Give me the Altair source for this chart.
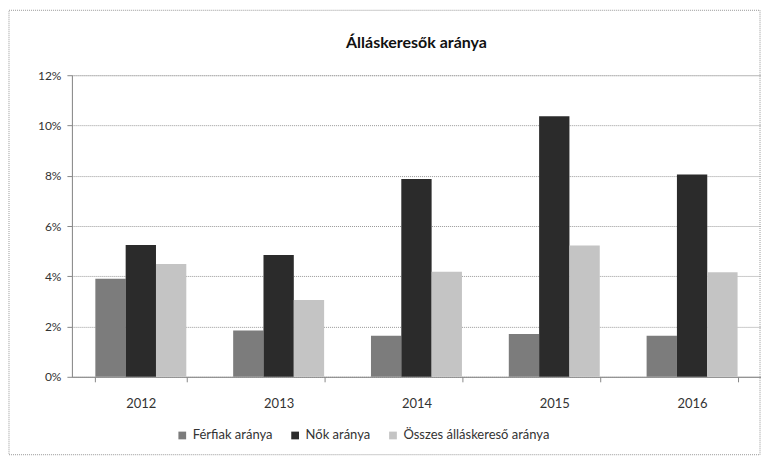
import altair as alt
import pandas as pd

years = ["2012", "2013", "2014", "2015", "2016"]
series = ["Férfiak aránya", "Nők aránya", "Összes álláskereső aránya"]
ferfiak = [0.039, 0.0184, 0.0163, 0.017, 0.0163]
nok = [0.0524, 0.0485, 0.0787, 0.1037, 0.0805]
osszes = [0.0449, 0.0306, 0.0418, 0.0522, 0.0416]
colors = ["#7c7c7c", "#2b2b2b", "#c4c4c4"]
title_text = ["Álláskeresők aránya"]

rows = []
for i, y in enumerate(years):
    for s, vals in zip(series, [ferfiak, nok, osszes]):
        rows.append({"Év": y, "Sorozat": s, "Érték": vals[i]})
df = pd.DataFrame(rows)

FONT = "Lato"

bars = alt.Chart(df).mark_bar().encode(
    x=alt.X("Év:N", sort=years, title=None,
            scale=alt.Scale(paddingInner=0.34, paddingOuter=0.17),
            axis=alt.Axis(labelAngle=0, labelPadding=16, tickBand="extent",
                          tickSize=5, tickColor="#888", domainColor="#888",
                          labelFontSize=13, labelColor="#333", labelFont=FONT, grid=False)),
    xOffset=alt.XOffset("Sorozat:N", sort=series),
    y=alt.Y("Érték:Q", title=None,
            scale=alt.Scale(domain=[0, 0.12]),
            axis=alt.Axis(format=".0%", values=[0, 0.02, 0.04, 0.06, 0.08, 0.10, 0.12],
                          tickSize=5, tickColor="#888", domainColor="#888",
                          gridColor="#999", gridDash=[1, 1], gridWidth=1,
                          labelFontSize=12, labelColor="#333", labelFont=FONT, labelPadding=6)),
    color=alt.Color("Sorozat:N", sort=series,
                    scale=alt.Scale(domain=series, range=colors),
                    legend=alt.Legend(title=None, orient="none", direction="horizontal",
                                      legendX=104, legendY=354, symbolType="square",
                                      symbolSize=60, symbolStrokeWidth=0,
                                      labelFontSize=13, labelFont=FONT, labelColor="#333",
                                      columnPadding=16)),
)

title = alt.Chart(pd.DataFrame({"t": title_text})).mark_text(
    font=FONT, fontSize=16, fontWeight="bold", color="#111", align="center", baseline="middle"
).encode(text="t:N", x=alt.value(345), y=alt.value(-32))

frame = alt.Chart(pd.DataFrame({"a": [0]})).mark_rect(
    fill=None, stroke="#999", strokeDash=[1, 1], strokeWidth=1
).encode(x=alt.value(-63), x2=alt.value(689), y=alt.value(-65), y2=alt.value(380))

chart = alt.layer(bars, title, frame).properties(
    width=690, height=302,
    autosize=alt.AutoSizeParams(type="none"),
    padding={"left": 64, "top": 67, "right": 0, "bottom": 79},
).configure_view(stroke=None).configure(background="white")

chart.save("out.html", embed_options={"renderer": "svg", "actions": False})
